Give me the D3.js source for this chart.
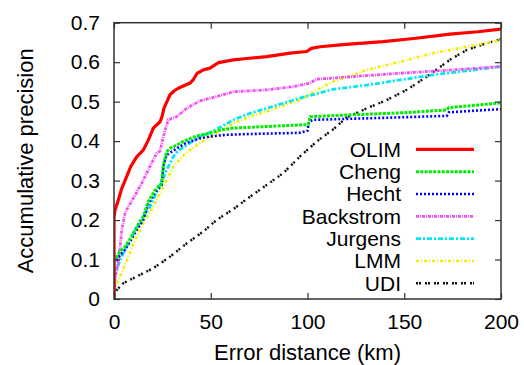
<!DOCTYPE html>
<html>
<head>
<meta charset="utf-8">
<script src="https://cdn.jsdelivr.net/npm/d3@7"></script>
<style>
  html, body { margin: 0; padding: 0; background: #fff; }
  svg { display: block; font-family: "Liberation Sans", Arial, Helvetica, sans-serif; }
</style>
</head>
<body>
<svg id="chart" width="524" height="365"></svg>
<script>
// Accumulative precision vs. error distance, one curve per method: [km, precision]
const olim = [[0,0],[0,0.205],[0.5,0.225],[2.2,0.25],[4,0.28],[5.7,0.30],[8.6,0.335],[11.7,0.36],[15.2,0.378],[17.5,0.40],[20.3,0.433],[23.8,0.449],[25,0.465],[25.8,0.483],[28.9,0.517],[31,0.527],[33.2,0.534],[39.3,0.547],[41,0.556],[43,0.572],[46,0.58],[49.6,0.585],[54,0.599],[61.7,0.606],[70,0.61],[78.9,0.614],[91,0.623],[99.6,0.627],[102,0.635],[106.5,0.639],[120,0.645],[139,0.652],[155,0.66],[173.6,0.671],[188,0.677],[200,0.684]];
const cheng = [[0,0],[0,0.105],[1.4,0.107],[3,0.12],[5.7,0.133],[8.6,0.154],[11.7,0.183],[15.1,0.209],[17.7,0.247],[21.2,0.276],[24.6,0.293],[25.5,0.34],[27.2,0.373],[29,0.382],[32.4,0.39],[36,0.40],[42.7,0.413],[49.6,0.42],[55,0.428],[61.7,0.433],[78.9,0.437],[96,0.441],[100.5,0.442],[101.3,0.462],[120,0.466],[150,0.472],[172,0.479],[173,0.485],[185,0.49],[200,0.497]];
const hecht = [[0,0],[0,0.095],[1.4,0.099],[3,0.11],[5.7,0.125],[8.6,0.148],[11.7,0.175],[15.1,0.2],[17.7,0.24],[21.2,0.27],[24.6,0.288],[25.5,0.335],[27.2,0.365],[32,0.38],[37,0.395],[44.4,0.407],[50,0.412],[58,0.416],[70,0.418],[96,0.421],[100,0.426],[100.7,0.449],[103,0.454],[140,0.459],[172,0.464],[173,0.473],[200,0.481]];
const backstrom = [[0,0],[0.5,0.05],[2,0.09],[3.1,0.128],[4,0.175],[5.7,0.217],[7.5,0.235],[10,0.255],[14.3,0.293],[17.7,0.327],[22,0.369],[23.8,0.375],[25.5,0.411],[28,0.454],[32.4,0.462],[37.6,0.483],[44.4,0.502],[53,0.513],[61.7,0.525],[78.9,0.53],[92.7,0.538],[101.3,0.547],[104.8,0.557],[122,0.563],[147.8,0.572],[173.6,0.58],[200,0.589]];
const jurgens = [[0,0],[0,0.04],[0.5,0.06],[3.1,0.099],[6.5,0.133],[10,0.166],[14.3,0.2],[18.6,0.234],[22.9,0.28],[25,0.30],[27.2,0.327],[30.6,0.36],[33,0.375],[37.6,0.39],[44.4,0.411],[53,0.43],[61.7,0.454],[70,0.47],[78.9,0.483],[96.1,0.509],[113,0.531],[130.6,0.542],[147.8,0.555],[165,0.568],[182,0.578],[200,0.589]];
const lmm = [[0,0],[0.5,0.03],[3.1,0.057],[7.4,0.107],[10.9,0.15],[15.2,0.192],[20.3,0.234],[25.5,0.285],[30.6,0.335],[36.7,0.368],[44.4,0.395],[53,0.42],[61.7,0.445],[70.3,0.462],[78.9,0.475],[96,0.504],[105,0.53],[113.3,0.551],[130.6,0.58],[147.8,0.601],[165,0.623],[182.3,0.639],[200,0.656]];
const udi = [[0,0],[0.5,0.018],[4.8,0.04],[11.7,0.057],[20.3,0.078],[28.9,0.107],[37.6,0.141],[46.2,0.171],[53,0.2],[61.7,0.228],[70.3,0.259],[78.9,0.289],[87.5,0.319],[96.1,0.361],[105,0.40],[113.3,0.43],[120.3,0.46],[130.6,0.483],[140.9,0.504],[151.3,0.53],[161.6,0.563],[173.6,0.606],[182.3,0.631],[192.6,0.648],[200,0.658]];

const seriesNames = ["OLIM", "Cheng", "Hecht", "Backstrom", "Jurgens", "LMM", "UDI"];
const seriesData = [olim, cheng, hecht, backstrom, jurgens, lmm, udi];
const xTicks = [0, 50, 100, 150, 200];
const yTicks = [0, 0.1, 0.2, 0.3, 0.4, 0.5, 0.6, 0.7];

// Line styles in gnuplot's colour terminal spirit
const styles = [
  { color: "#ff0000", width: 3.2, dash: null },
  { color: "#00ee00", width: 3,   dash: "3,1.3" },
  { color: "#0000ff", width: 2.6, dash: "2,2" },
  { color: "#f050f0", width: 2.8, dash: "3,1,1,1" },
  { color: "#00e8f0", width: 2.8, dash: "5,2,2,2" },
  { color: "#f0f000", width: 2.6, dash: "3,2,1,2" },
  { color: "#111111", width: 2.4, dash: "2,1,2,4" }
];

const svg = d3.select("#chart");
const plotL = 114, plotR = 501, plotT = 22.7, plotB = 299;

const x = d3.scaleLinear().domain([0, 200]).range([plotL, plotR]);
const y = d3.scaleLinear().domain([0, 0.7]).range([plotB, plotT]);

const fontSize = 21;

// Curves (drawn first, frame on top)
svg.append("clipPath").attr("id", "plotClip")
  .append("rect").attr("x", plotL).attr("y", plotT - 4)
  .attr("width", plotR - plotL).attr("height", plotB - plotT + 4);

const line = d3.line().x(d => x(d[0])).y(d => y(d[1]));
const curves = svg.append("g").attr("clip-path", "url(#plotClip)");
// draw in reverse so OLIM ends on top
for (let i = seriesData.length - 1; i >= 0; i--) {
  curves.append("path")
    .datum(seriesData[i])
    .attr("d", line)
    .attr("fill", "none")
    .attr("stroke", styles[i].color)
    .attr("stroke-width", styles[i].width)
    .attr("stroke-dasharray", styles[i].dash)
    .attr("stroke-linejoin", "round");
}

// Axes with inward ticks on all four sides
const axisColor = "#333";
function styleAxis(g) {
  g.select(".domain").remove();
  g.selectAll(".tick line").attr("stroke", axisColor).attr("stroke-width", 1.2);
  g.selectAll(".tick text").attr("fill", "#000").attr("font-size", fontSize)
    .attr("font-family", "'Liberation Sans', Arial, sans-serif");
}

svg.append("g").attr("transform", `translate(0,${plotB})`)
  .call(d3.axisBottom(x).tickValues(xTicks).tickSize(-6).tickPadding(15).tickFormat(d3.format("d")))
  .call(styleAxis);
svg.append("g").attr("transform", `translate(0,${plotT})`)
  .call(d3.axisTop(x).tickValues(xTicks).tickSize(-6).tickFormat(""))
  .call(styleAxis);
svg.append("g").attr("transform", `translate(${plotL},0)`)
  .call(d3.axisLeft(y).tickValues(yTicks).tickSize(-6).tickPadding(14).tickFormat(d => d === 0 ? "0" : d3.format(".1f")(d)))
  .call(styleAxis);
svg.append("g").attr("transform", `translate(${plotR},0)`)
  .call(d3.axisRight(y).tickValues(yTicks).tickSize(-6).tickFormat(""))
  .call(styleAxis);

svg.append("rect")
  .attr("x", plotL).attr("y", plotT)
  .attr("width", plotR - plotL).attr("height", plotB - plotT)
  .attr("fill", "none").attr("stroke", axisColor).attr("stroke-width", 1.5);

// Axis titles
svg.append("text")
  .attr("x", (plotL + plotR) / 2).attr("y", 360)
  .attr("text-anchor", "middle").attr("font-size", 22).attr("fill", "#000")
  .text("Error distance (km)");
svg.append("text")
  .attr("transform", `translate(33,${(plotT + plotB) / 2}) rotate(-90)`)
  .attr("text-anchor", "middle").attr("font-size", 22).attr("fill", "#000")
  .text("Accumulative precision");

// Legend
const legend = svg.append("g");
const legY0 = 149.3, legStep = 22.33;
seriesNames.forEach((name, i) => {
  const cy = legY0 + i * legStep;
  legend.append("text")
    .attr("x", 401).attr("y", cy + 7.5)
    .attr("text-anchor", "end").attr("font-size", 21).attr("fill", "#000")
    .text(name);
  legend.append("line")
    .attr("x1", 416).attr("x2", 474).attr("y1", cy).attr("y2", cy)
    .attr("stroke", styles[i].color)
    .attr("stroke-width", styles[i].width)
    .attr("stroke-dasharray", styles[i].dash);
});
</script>
</body>
</html>
